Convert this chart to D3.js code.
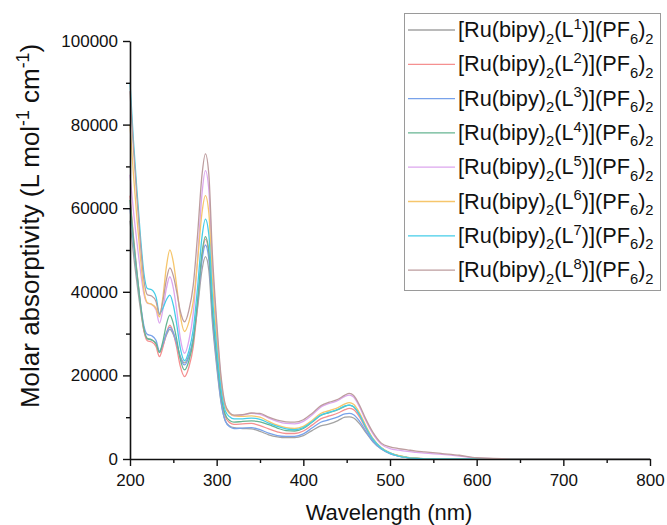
<!DOCTYPE html>
<html>
<head>
<meta charset="utf-8">
<script src="https://cdn.jsdelivr.net/npm/d3@7"></script>
<style>
  body { margin: 0; background: #fff; }
  text { font-family: "Liberation Sans", Arial, sans-serif; fill: #111; }
</style>
</head>
<body>
<svg id="chart" width="667" height="525"></svg>
<script>
// wavelength grid (nm) shared by all spectra
var wavelengths = [200, 204, 208, 212, 216, 220, 225, 230, 234, 238, 242, 246, 250, 254, 258, 263,
  268, 273, 278, 283, 287, 291, 295, 300, 305, 310, 315, 320,
  330, 340, 350, 360, 370, 380, 390, 400, 410, 420, 430, 440, 448, 453, 458, 465, 472, 480,
  490, 500, 510, 520, 530, 540, 560, 580, 600, 650, 700, 800];

// molar absorptivity, in thousands of L mol-1 cm-1
var epsL1 = [57, 49.0, 42.2, 35.9, 30.8, 28.8, 28.5, 27.6, 25.5, 27.2, 29.6, 31.0, 29.8, 27.4, 24.6, 23.0,
  24.8, 28.6, 36.2, 45.1, 48.4, 45.1, 32.9, 22.2, 13.6, 9.1, 7.9, 7.5,
  7.3, 7.2, 6.6, 5.8, 5.3, 5.1, 5.1, 5.6, 6.8, 7.9, 8.4, 9.2, 10.0, 10.1, 9.8, 8.4, 6.4, 4.2,
  2.4, 1.3, 0.7, 0.35, 0.15, 0.05, 0, 0, 0, 0, 0, 0];
var epsL2 = [63, 53.2, 44.8, 37.1, 30.8, 28.3, 28.0, 26.9, 24.5, 26.8, 30.1, 32.0, 30.2, 26.5, 22.2, 19.7,
  22.0, 26.9, 36.8, 48.3, 52.6, 49.1, 35.8, 24.2, 14.9, 10.1, 8.7, 8.3,
  8.4, 8.5, 8.0, 7.2, 6.5, 6.1, 6.1, 6.7, 8.1, 9.6, 10.3, 11.0, 11.8, 12.1, 11.8, 10.0, 7.3, 4.6,
  2.5, 1.4, 0.75, 0.35, 0.15, 0.05, 0, 0, 0, 0, 0, 0];
var epsL3 = [60, 51.5, 44.1, 37.4, 31.9, 29.8, 29.5, 28.4, 25.8, 27.5, 30.1, 31.5, 30.2, 27.5, 24.3, 22.5,
  24.5, 28.8, 37.4, 47.5, 51.2, 47.7, 34.5, 23.1, 13.9, 9.1, 7.7, 7.3,
  7.4, 7.5, 7.0, 6.2, 5.6, 5.4, 5.4, 6.0, 7.4, 8.8, 9.4, 10.1, 10.8, 10.9, 10.6, 9.0, 6.7, 4.3,
  2.4, 1.3, 0.7, 0.35, 0.15, 0.05, 0, 0, 0, 0, 0, 0];
var epsL4 = [62, 52.6, 44.6, 37.2, 31.2, 28.8, 28.5, 27.6, 25.5, 28.2, 32.2, 34.4, 32.4, 28.5, 23.9, 21.3,
  23.5, 28.3, 37.9, 49.1, 53.2, 49.6, 36.3, 24.8, 15.5, 10.6, 9.2, 8.8,
  9.0, 9.1, 8.9, 8.2, 7.4, 6.8, 6.7, 7.3, 8.8, 10.4, 11.1, 11.8, 12.6, 12.9, 12.5, 10.6, 7.7, 4.9,
  2.7, 1.5, 0.8, 0.4, 0.2, 0.1, 0, 0, 0, 0, 0, 0];
var epsL5 = [68, 59.3, 51.9, 45.1, 39.5, 37.3, 37.0, 35.7, 32.5, 35.8, 40.8, 43.6, 40.9, 35.4, 29.0, 25.3,
  28.4, 34.9, 48.0, 63.3, 69.0, 64.3, 46.7, 31.4, 19.1, 12.6, 10.9, 10.3,
  10.5, 10.9, 10.7, 9.8, 9.0, 8.5, 8.4, 9.0, 10.5, 12.4, 13.3, 14.0, 15.0, 15.3, 14.8, 12.4, 9.2, 6.1,
  3.5, 2.5, 2.1, 1.8, 1.6, 1.4, 1.1, 0.7, 0.2, 0, 0, 0];
var epsL6 = [80, 68.0, 57.6, 48.2, 40.4, 37.4, 37.0, 36.1, 34.0, 38.8, 46.0, 50.0, 47.1, 41.2, 34.4, 30.5,
  32.8, 37.7, 47.4, 58.8, 63.0, 58.8, 43.0, 29.3, 18.3, 12.5, 10.9, 10.4,
  10.2, 10.3, 10.0, 9.0, 8.1, 7.5, 7.3, 7.8, 9.2, 10.9, 11.6, 12.3, 13.2, 13.5, 13.1, 11.0, 8.0, 5.0,
  2.7, 1.5, 0.8, 0.4, 0.2, 0.1, 0, 0, 0, 0, 0, 0];
var epsL7 = [90, 76.1, 64.3, 53.4, 44.5, 40.8, 40.5, 38.8, 34.8, 36.1, 38.1, 39.2, 36.8, 32.1, 26.6, 23.5,
  25.9, 31.0, 41.1, 53.0, 57.4, 53.6, 39.2, 26.8, 16.8, 11.5, 10.1, 9.6,
  9.6, 9.8, 9.5, 8.6, 7.8, 7.2, 7.0, 7.5, 8.9, 10.5, 11.2, 11.9, 12.7, 12.9, 12.5, 10.5, 7.6, 4.8,
  2.6, 1.4, 0.7, 0.35, 0.15, 0.05, 0, 0, 0, 0, 0, 0];
var epsL8 = [88, 74.3, 62.5, 51.7, 42.9, 39.3, 39.0, 37.7, 34.5, 37.9, 42.9, 45.7, 43.8, 39.9, 35.4, 32.8,
  35.6, 41.6, 53.7, 67.8, 73.0, 68.0, 49.3, 33.0, 19.9, 13.0, 11.1, 10.5,
  10.6, 11.0, 10.9, 10.0, 9.3, 8.9, 8.8, 9.4, 10.9, 12.7, 13.6, 14.3, 15.3, 15.7, 15.2, 12.8, 9.6, 6.5,
  3.8, 2.9, 2.5, 2.2, 1.9, 1.7, 1.3, 0.9, 0.3, 0, 0, 0];

var ligands = ["1", "2", "3", "4", "5", "6", "7", "8"];
var colors = ["#a3a3a3", "#f59090", "#78a2ea", "#66b592", "#dca6ee", "#f6c66c", "#45cde8", "#bd9c9e"];
var xTicks = [200, 300, 400, 500, 600, 700, 800];
var yTicks = [0, 20, 40, 60, 80, 100];

var series = [epsL1, epsL2, epsL3, epsL4, epsL5, epsL6, epsL7, epsL8];

var svg = d3.select("#chart");

var x = d3.scaleLinear().domain([200, 800]).range([130, 650]);
var y = d3.scaleLinear().domain([0, 100]).range([459, 41]);

// spectra
var line = d3.line()
  .x(function (d, i) { return x(wavelengths[i]); })
  .y(function (d) { return y(d); })
  .curve(d3.curveMonotoneX);

svg.append("g")
  .selectAll("path")
  .data(series)
  .join("path")
  .attr("d", line)
  .attr("fill", "none")
  .attr("stroke", function (d, i) { return colors[i]; })
  .attr("stroke-width", 1.3);

// minor ticks
svg.append("g")
  .attr("transform", "translate(0,459)")
  .call(d3.axisBottom(x).tickValues(d3.range(250, 800, 100)).tickSize(4).tickFormat(""))
  .call(function (g) { g.select(".domain").remove(); });
svg.append("g")
  .attr("transform", "translate(130,0)")
  .call(d3.axisLeft(y).tickValues(d3.range(10, 100, 20)).tickSize(4).tickFormat(""))
  .call(function (g) { g.select(".domain").remove(); });

// major axes
svg.append("g")
  .attr("transform", "translate(0,459)")
  .call(d3.axisBottom(x).tickValues(xTicks).tickSizeInner(7).tickSizeOuter(0).tickPadding(8));
svg.append("g")
  .attr("transform", "translate(130,0)")
  .call(d3.axisLeft(y).tickValues(yTicks).tickSizeInner(7).tickSizeOuter(0).tickPadding(5)
    .tickFormat(function (d) { return d * 1000; }));

svg.selectAll(".domain").attr("stroke", "#111").attr("stroke-width", 1.6);
svg.selectAll(".tick line").attr("stroke", "#111").attr("stroke-width", 1.4);
svg.selectAll(".tick text").style("font-size", "17px").style("font-family", "Liberation Sans, Arial, sans-serif").attr("fill", "#111");

// rich text helper: parts of [text, "sub"|"sup"|""]
function richText(sel, parts, size) {
  var cur = 0;
  parts.forEach(function (p) {
    var target = p[1] === "sub" ? size * 0.3 : p[1] === "sup" ? -size * 0.38 : 0;
    sel.append("tspan")
      .attr("dy", target - cur)
      .style("font-size", (p[1] ? size * 0.68 : size) + "px")
      .text(p[0]);
    cur = target;
  });
}

// axis titles
svg.append("text")
  .attr("x", 389)
  .attr("y", 520)
  .attr("text-anchor", "middle")
  .style("font-size", "22px")
  .text("Wavelength (nm)");

var yTitle = svg.append("text")
  .attr("transform", "translate(39,226) rotate(-90)")
  .attr("text-anchor", "middle");
richText(yTitle, [["Molar absorptivity (L mol", ""], ["-1", "sup"], [" cm", ""], ["-1", "sup"], [")", ""]], 26);

// legend
var legend = svg.append("g");
legend.append("rect")
  .attr("x", 404.5).attr("y", 13.5)
  .attr("width", 256).attr("height", 277)
  .attr("fill", "#fff")
  .attr("stroke", "#9a9a9a")
  .attr("stroke-width", 1);

ligands.forEach(function (l, i) {
  var ly = 30 + i * 34.3;
  legend.append("line")
    .attr("x1", 408).attr("x2", 455)
    .attr("y1", ly).attr("y2", ly)
    .attr("stroke", colors[i])
    .attr("stroke-width", 1.3);
  var t = legend.append("text")
    .attr("x", 458)
    .attr("y", ly + 7);
  richText(t, [["[Ru(bipy)", ""], ["2", "sub"], ["(L", ""], [l, "sup"], [")](PF", ""], ["6", "sub"], [")", ""], ["2", "sub"]], 21.7);
});
</script>
</body>
</html>
